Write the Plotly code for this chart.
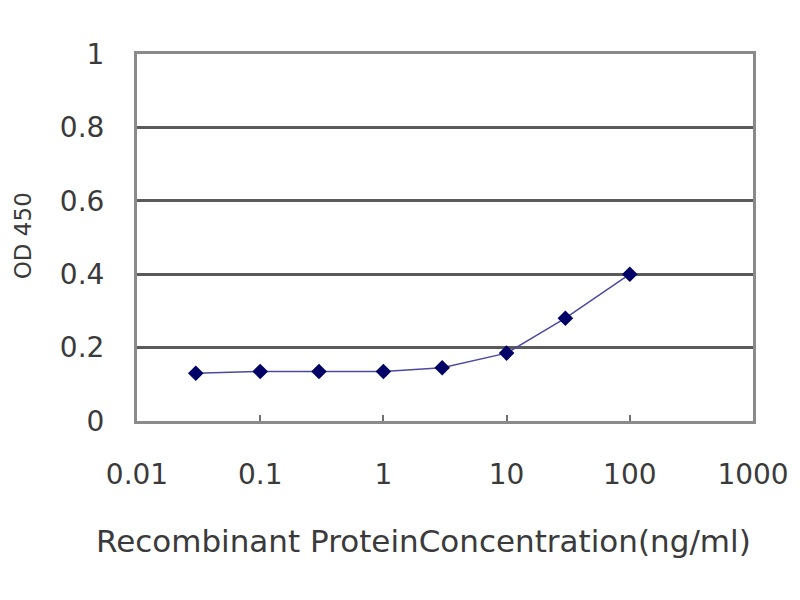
import plotly.graph_objects as go

concentration = [0.03, 0.1, 0.3, 1, 3, 10, 30, 100]
od450 = [0.13, 0.135, 0.135, 0.135, 0.145, 0.185, 0.28, 0.40]

x_tickvals = [0.01, 0.1, 1, 10, 100, 1000]
x_ticktext = ["0.01", "0.1", "1", "10", "100", "1000"]
y_tickvals = [0, 0.2, 0.4, 0.6, 0.8, 1]
y_ticktext = ["0", "0.2", "0.4", "0.6", "0.8", "1"]

font_family = "DejaVu Sans"
text_color = "#3a3a3a"

fig = go.Figure()
fig.add_trace(go.Scatter(
    x=concentration, y=od450, mode="lines+markers",
    line=dict(color="#4a4aa0", width=1.5),
    marker=dict(symbol="diamond", size=12, color="#000066"),
    showlegend=False,
))

fig.add_annotation(
    text="Recombinant ProteinConcentration(ng/ml)",
    xref="paper", yref="paper", x=0.4645, y=-0.327,
    xanchor="center", yanchor="middle", showarrow=False,
    font=dict(size=31, color=text_color, family=font_family),
)

fig.add_annotation(
    text="OD 450", textangle=-90,
    xref="paper", yref="paper", x=(20 - 135) / 620, y=(422 - 235) / 370,
    xanchor="center", yanchor="middle", showarrow=False,
    font=dict(size=23, color=text_color, family=font_family),
)

fig.update_layout(
    width=800, height=600,
    margin=dict(l=129, r=55, t=46, b=187),
    paper_bgcolor="white", plot_bgcolor="white",
    font=dict(family=font_family, color=text_color),
    xaxis=dict(
        type="log", range=[-2, 3],
        tickvals=x_tickvals, ticktext=x_ticktext,
        tickfont=dict(size=28, color=text_color),
        ticks="inside", ticklen=6, tickwidth=2, tickcolor="#707070",
        ticklabelstandoff=26,
        showgrid=False, zeroline=False,
        showline=True, linecolor="#8a8a8a", linewidth=3, mirror=True,
        automargin=False,
    ),
    yaxis=dict(
        range=[0, 1],
        tickvals=y_tickvals, ticktext=y_ticktext,
        tickfont=dict(size=28, color=text_color),
        ticks="", ticklabelstandoff=24,
        showgrid=True, gridcolor="#5a5a5a", gridwidth=2.5,
        zeroline=False,
        showline=True, linecolor="#8a8a8a", linewidth=3, mirror=True,
        automargin=False,
    ),
)

fig.write_html("out.html")
